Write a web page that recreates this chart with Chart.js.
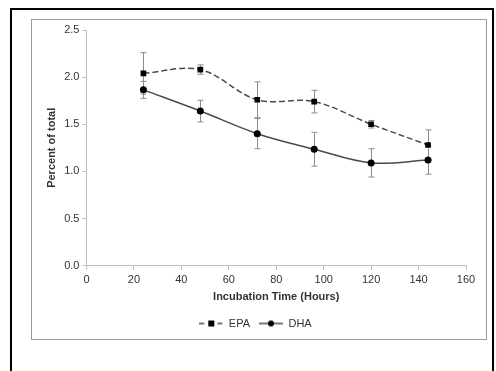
<!DOCTYPE html>
<html>
<head>
<meta charset="utf-8">
<script src="https://cdn.jsdelivr.net/npm/chart.js@4.4.1/dist/chart.umd.min.js"></script>
<style>
    body { margin: 0; background: #fff; width: 496px; height: 371px; overflow: hidden; position: relative; }
    #outer { position: absolute; left: 10px; top: 8px; width: 484px; height: 380px; border: 2px solid #000; box-sizing: border-box; }
    #inner { position: absolute; left: 31px; top: 19px; width: 456px; height: 321px; border: 1px solid #9a9a9a; box-sizing: border-box; }
    #chartBox { position: absolute; left: 32px; top: 20px; width: 454px; height: 319px; }
</style>
</head>
<body>
<div id="outer"></div>
<div id="inner"></div>
<div id="chartBox"><canvas id="fattyAcidChart"></canvas></div>
<script>
//Fatty acid percent over incubation time

const hours = [24, 48, 72, 96, 120, 144];
const epaValues = [2.04, 2.08, 1.76, 1.74, 1.50, 1.28];
const epaErrors = [0.22, 0.05, 0.19, 0.12, 0.04, 0.16];
const dhaValues = [1.865, 1.64, 1.40, 1.235, 1.09, 1.12];
const dhaErrors = [0.09, 0.115, 0.16, 0.18, 0.15, 0.15];

const theme = {
    text: "#333333",
    axis: "#bdbdbd",
    err: "#8c8c8c",
    line: "#4a4a4a"
};

// legend swatch: line + marker, like Excel
function swatch(dashed, square) {
    const c = document.createElement("canvas");
    c.width = 24; c.height = 8;
    const g = c.getContext("2d");
    g.strokeStyle = theme.line;
    g.lineWidth = 1.5;
    g.setLineDash(dashed ? [5, 4] : []);
    g.beginPath(); g.moveTo(0, 4); g.lineTo(24, 4); g.stroke();
    g.fillStyle = "#000";
    if (square) g.fillRect(9, 1, 6, 6);
    else { g.beginPath(); g.arc(12, 4, 3, 0, Math.PI * 2); g.fill(); }
    return c;
}

const errorBars = {
    id: "errorBars",
    beforeDatasetsDraw(chart) {
        const g = chart.ctx;
        const x = chart.scales.x, y = chart.scales.y;
        const sets = [[epaValues, epaErrors], [dhaValues, dhaErrors]];
        g.save();
        g.strokeStyle = theme.err;
        g.lineWidth = 1;
        sets.forEach(([vals, errs]) => {
            vals.forEach((v, i) => {
                const px = Math.round(x.getPixelForValue(hours[i])) + 0.5;
                const top = y.getPixelForValue(v + errs[i]);
                const bot = y.getPixelForValue(v - errs[i]);
                g.beginPath();
                g.moveTo(px, top); g.lineTo(px, bot);
                g.moveTo(px - 3, top); g.lineTo(px + 3, top);
                g.moveTo(px - 3, bot); g.lineTo(px + 3, bot);
                g.stroke();
            });
        });
        g.restore();
    }
};

const ctx = document.getElementById("fattyAcidChart");

new Chart(ctx, {
    type: "line",
    data: {
        datasets: [{
            label: "EPA",
            data: hours.map((h, i) => ({ x: h, y: epaValues[i] })),
            borderColor: theme.line,
            borderWidth: 1.5,
            borderDash: [6, 3],
            tension: 0.35,
            pointStyle: "rect",
            pointRadius: 4,
            pointBackgroundColor: "#000",
            pointBorderColor: "#000",
            pointBorderWidth: 0
        }, {
            label: "DHA",
            data: hours.map((h, i) => ({ x: h, y: dhaValues[i] })),
            borderColor: theme.line,
            borderWidth: 1.5,
            tension: 0.35,
            pointStyle: "circle",
            pointRadius: 3.5,
            pointBackgroundColor: "#000",
            pointBorderColor: "#000",
            pointBorderWidth: 0
        }]
    },
    options: {
        responsive: true,
        maintainAspectRatio: false,
        animation: false,
        layout: { padding: { left: 13, right: 20, top: 10, bottom: 0 } },
        plugins: {
            tooltip: { enabled: false },
            legend: {
                position: "bottom",
                labels: {
                    color: theme.text,
                    font: { family: "Liberation Sans", size: 11 },
                    usePointStyle: true,
                    pointStyleWidth: 24,
                    boxHeight: 8,
                    padding: 9,
                    generateLabels: () => [
                        { text: "EPA", pointStyle: swatch(true, true), fontColor: theme.text, datasetIndex: 0 },
                        { text: "DHA", pointStyle: swatch(false, false), fontColor: theme.text, datasetIndex: 1 }
                    ]
                }
            }
        },
        scales: {
            x: {
                type: "linear",
                min: 0,
                max: 160,
                ticks: { stepSize: 20, color: theme.text, font: { family: "Liberation Sans", size: 11 }, padding: 4 },
                grid: { drawOnChartArea: false, tickLength: 4, color: theme.axis },
                border: { color: theme.axis },
                title: { display: true, text: "Incubation Time (Hours)", color: theme.text, font: { family: "Liberation Sans", size: 11, weight: "bold" }, padding: { top: 0, bottom: 5 } }
            },
            y: {
                min: 0,
                max: 2.5,
                ticks: { stepSize: 0.5, color: theme.text, font: { family: "Liberation Sans", size: 11 }, padding: 3, callback: v => v.toFixed(1) },
                grid: { drawOnChartArea: false, tickLength: 4, color: theme.axis },
                border: { color: theme.axis },
                title: { display: true, text: "Percent of total", color: theme.text, font: { family: "Liberation Sans", size: 11, weight: "bold" }, padding: { top: 0, bottom: 3 } }
            }
        }
    },
    plugins: [errorBars]
});
</script>
</body>
</html>
